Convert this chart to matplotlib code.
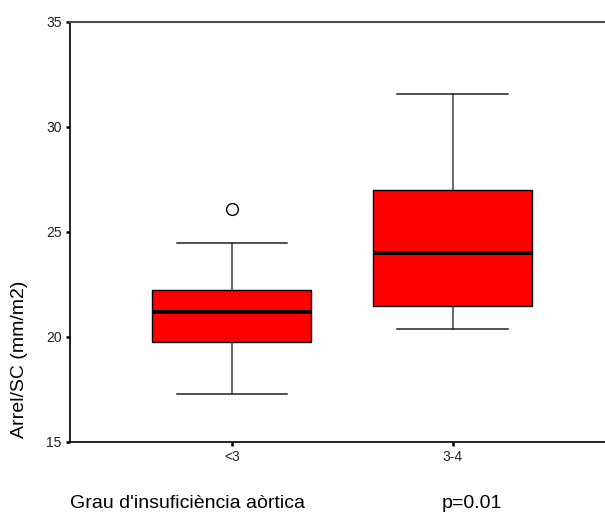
import matplotlib
matplotlib.use("Agg")
import matplotlib.pyplot as plt

plt.rcParams['font.family'] = ['Liberation Sans', 'DejaVu Sans']

# Data (box-plot summary per group)
categories = ['<3', '3-4']
whisker_low = [17.26, 20.37]
q1 = [19.75, 21.48]
median = [21.16, 24.0]
q3 = [22.22, 26.99]
whisker_high = [24.48, 31.56]
outliers = [[26.07], []]

y_ticks = [15, 20, 25, 30, 35]
x_label = "Grau d'insuficiència aòrtica"
p_text = "p=0.01"
y_label = "Arrel/SC (mm/m2)"

stats = []
for i, name in enumerate(categories):
    stats.append({
        'label': name,
        'whislo': whisker_low[i],
        'q1': q1[i],
        'med': median[i],
        'q3': q3[i],
        'whishi': whisker_high[i],
        'fliers': outliers[i],
    })

fig = plt.figure(figsize=(6.05, 5.18), dpi=100)
ax = fig.add_axes([70 / 605, (518 - 441.7) / 518, (605 - 70) / 605, 420 / 518])

ax.bxp(stats, positions=[1, 2], widths=0.72, capwidths=0.5, patch_artist=True,
       boxprops=dict(facecolor='#ff0000', edgecolor='black', linewidth=1.0),
       medianprops=dict(color='black', linewidth=2.8, solid_capstyle='butt'),
       whiskerprops=dict(color='#404040', linewidth=1.1),
       capprops=dict(color='#202020', linewidth=1.1),
       flierprops=dict(marker='o', markerfacecolor='white', markeredgecolor='black',
                       markersize=8.5, markeredgewidth=1.0))

ax.set_xlim(0.268, 2.689)
ax.set_ylim(15, 35)
ax.set_yticks(y_ticks)
ax.set_xticks([1, 2])
ax.set_xticklabels(categories)

ax.spines['right'].set_visible(False)
ax.spines['left'].set_linewidth(1.2)
ax.spines['bottom'].set_linewidth(1.2)
ax.spines['top'].set_linewidth(1.5)
ax.spines['top'].set_color('#505050')

ax.tick_params(axis='both', direction='out', length=3, width=1.8, labelsize=10,
               color='black', labelcolor='#202020', pad=3)

# y label sits low, near the bottom of the axis like the original
ax.set_ylabel(y_label, fontsize=14)
ax.yaxis.set_label_coords(-0.0785, 0.195)
fig.text(70 / 605, (518 - 508) / 518, x_label, fontsize=14, va='baseline', ha='left')
fig.text(441.7 / 605, (518 - 508) / 518, p_text, fontsize=14, va='baseline', ha='left')

fig.savefig('out.png', dpi=100)
